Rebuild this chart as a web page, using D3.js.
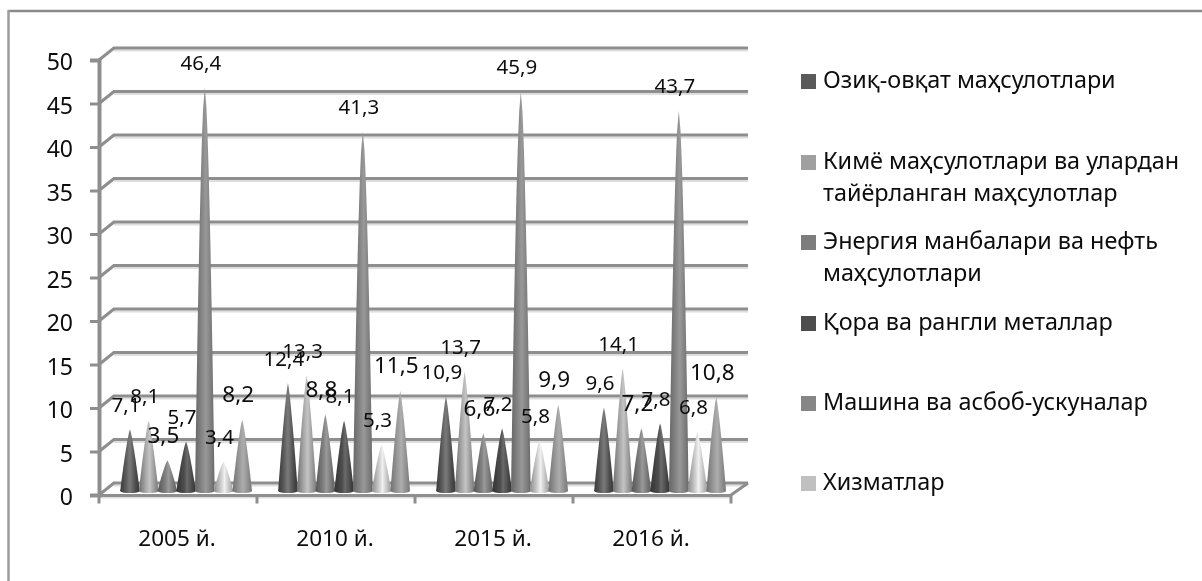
<!DOCTYPE html>
<html><head><meta charset="utf-8">
<script src="https://cdn.jsdelivr.net/npm/d3@7/dist/d3.min.js"></script>
<style>html,body{margin:0;background:#fff}svg{display:block}text{font-family:"Noto Sans",sans-serif;fill:#0d0d0d}</style>
</head><body><div id="c"></div>
<script>
const categories=["2005 й.","2010 й.","2015 й.","2016 й."];
const seriesNames=["s1","s2","s3","s4","s5","s6","s7"];
const food=[7.1,12.4,10.9,9.6];
const chemical=[8.1,13.3,13.7,14.1];
const energy=[3.5,8.8,6.6,7.2];
const metals=[5.7,8.1,7.2,7.8];
const machinery=[46.4,41.3,45.9,43.7];
const services=[3.4,5.3,5.8,6.8];
const other=[8.2,11.5,9.9,10.8];
const allSeries=[food,chemical,energy,metals,machinery,services,other];
const yTicks=[0,5,10,15,20,25,30,35,40,45,50];
const legendEntries=[
 {lines:["Озиқ-овқат маҳсулотлари"],color:"#5a5a5a",y:89},
 {lines:["Кимё маҳсулотлари ва улардан","тайёрланган маҳсулотлар"],color:"#a0a0a0",y:170},
 {lines:["Энергия манбалари ва нефть","маҳсулотлари"],color:"#7d7d7d",y:250},
 {lines:["Қора ва рангли металлар"],color:"#4d4d4d",y:331},
 {lines:["Машина ва асбоб-ускуналар"],color:"#868686",y:411},
 {lines:["Хизматлар"],color:"#c0c0c0",y:491}];
const stops=[
 [["#383838",0],["#555",.25],["#7a7a7a",.5],["#4a4a4a",.8],["#3a3a3a",1]],
 [["#6e6e6e",0],["#a8a8a8",.35],["#c4c4c4",.55],["#999",.8],["#777",1]],
 [["#555",0],["#808080",.4],["#9a9a9a",.55],["#707070",.85],["#5c5c5c",1]],
 [["#333",0],["#4d4d4d",.4],["#6a6a6a",.55],["#444",.85],["#333",1]],
 [["#666",0],["#8a8a8a",.4],["#999",.55],["#7a7a7a",.85],["#666",1]],
 [["#8a8a8a",0],["#c8c8c8",.35],["#f0f0f0",.55],["#c0c0c0",.8],["#999",1]],
 [["#707070",0],["#999",.35],["#adadad",.55],["#8f8f8f",.8],["#787878",1]]];
const labelSize=[20.5,20.5,22.5,20.5,20.5,20.5,22.5];
const W=1202,H=581;
const svg=d3.select("#c").append("svg").attr("width",W).attr("height",H);
const defs=svg.append("defs");
defs.append("filter").attr("id","soft").attr("x",0).attr("y",0).attr("width",1).attr("height",1)
 .append("feGaussianBlur").attr("stdDeviation",0.45);
stops.forEach((s,i)=>{const g=defs.append("linearGradient").attr("id","g"+i);
 s.forEach(([c,o])=>g.append("stop").attr("offset",o).attr("stop-color",c));});
const root=svg.append("g").attr("filter","url(#soft)");
root.append("rect").attr("width",W).attr("height",H).attr("fill","#fff");
root.append("line").attr("x1",8.5).attr("x2",W).attr("y1",11).attr("y2",11).attr("stroke","#8a8a8a").attr("stroke-width",2.5);
root.append("line").attr("x1",8.5).attr("x2",8.5).attr("y1",10).attr("y2",H).attr("stroke","#9c9c9c").attr("stroke-width",2.5);
const depthX=15,depthY=12,backRight=748;
const y=d3.scaleLinear().domain([0,50]).range([495,60]);
const x=d3.scaleBand().domain(categories).range([99,731]);
const inner=d3.scaleBand().domain(seriesNames).range([0,131]);
const grid=root.append("g");
const gridCol="#8e8e8e";
yTicks.forEach(t=>{const yy=y(t);
 grid.append("line").attr("x1",99+depthX).attr("x2",backRight).attr("y1",yy-depthY+2.5).attr("y2",yy-depthY+2.5).attr("stroke","#dedede").attr("stroke-width",2);
 grid.append("line").attr("x1",99+depthX-1).attr("x2",backRight).attr("y1",yy-depthY).attr("y2",yy-depthY).attr("stroke",gridCol).attr("stroke-width",3);
 grid.append("line").attr("x1",99).attr("x2",99+depthX).attr("y1",yy).attr("y2",yy-depthY).attr("stroke",gridCol).attr("stroke-width",3);
});
grid.append("line").attr("x1",99).attr("x2",731).attr("y1",y(0)+2.5).attr("y2",y(0)+2.5).attr("stroke","#dedede").attr("stroke-width",2);
grid.append("line").attr("x1",731).attr("x2",backRight).attr("y1",y(0)).attr("y2",y(0)-depthY).attr("stroke",gridCol).attr("stroke-width",3);
const yAxis=d3.axisLeft(y).tickValues(yTicks).tickSize(9).tickPadding(17);
const ya=root.append("g").attr("transform","translate(99,0)").call(yAxis);
ya.selectAll("path,line").attr("stroke",gridCol).attr("stroke-width",3);
ya.select("path").attr("stroke-width",4);
ya.selectAll("text").attr("font-size",23).attr("dy",".42em").style("font-family",'"Noto Sans"').attr("fill","#0d0d0d");
const xAxis=d3.axisBottom(x).tickValues([]).tickSize(0);
const xa=root.append("g").attr("transform",`translate(0,${y(0)})`).call(xAxis);
xa.select("path").attr("stroke",gridCol).attr("stroke-width",3);
x.domain().concat(["end"]).forEach((c,i)=>{const px=i<4?x(c):x.range()[1];
 root.append("line").attr("x1",px).attr("x2",px).attr("y1",y(0)).attr("y2",y(0)+8.5).attr("stroke",gridCol).attr("stroke-width",3);});
categories.forEach(c=>root.append("text").attr("x",x(c)+x.bandwidth()/2-1).attr("y",546).attr("text-anchor","middle").attr("font-size",22.5).text(c));
const baseY=y(0)-4;
const pxPer=y(0)-y(1);
const cones=root.append("g");
const shift=21.6;
allSeries.forEach((vals,s)=>{vals.forEach((v,c)=>{
 const cx=x(categories[c])+shift+inner(seriesNames[s])+inner.bandwidth()/2;
 const h=v*pxPer;
 const hw=9.8;
 const pow=v>20?0.6:0.8;
 const ts=d3.range(0,1.0001,0.05);
 const left=ts.map(t=>[cx-hw*Math.pow(Math.max(0,1-t),pow),baseY-t*h]);
 const right=ts.slice().reverse().map(t=>[cx+hw*Math.pow(Math.max(0,1-t),pow),baseY-t*h]);
 cones.append("path").attr("d",d3.line()(left.concat(right))+"Z").attr("fill",`url(#g${s})`);
 cones.append("ellipse").attr("cx",cx).attr("cy",baseY).attr("rx",hw).attr("ry",2).attr("fill",`url(#g${s})`);
});});
const labels=root.append("g");
allSeries.forEach((vals,s)=>{vals.forEach((v,c)=>{
 const cx=x(categories[c])+shift+inner(seriesNames[s])+inner.bandwidth()/2;
 labels.append("text").attr("x",cx-4).attr("y",baseY-v*pxPer-17.5).attr("text-anchor","middle").attr("font-size",labelSize[s]).text(String(v).replace(".",","));
});});
const leg=root.append("g");
legendEntries.forEach(e=>{
 leg.append("rect").attr("x",801).attr("y",e.y-15).attr("width",15).attr("height",15).attr("fill",e.color);
 e.lines.forEach((l,i)=>leg.append("text").attr("x",823).attr("y",e.y-1+i*32).attr("font-size",23.4).text(l));
});
</script></body></html>
